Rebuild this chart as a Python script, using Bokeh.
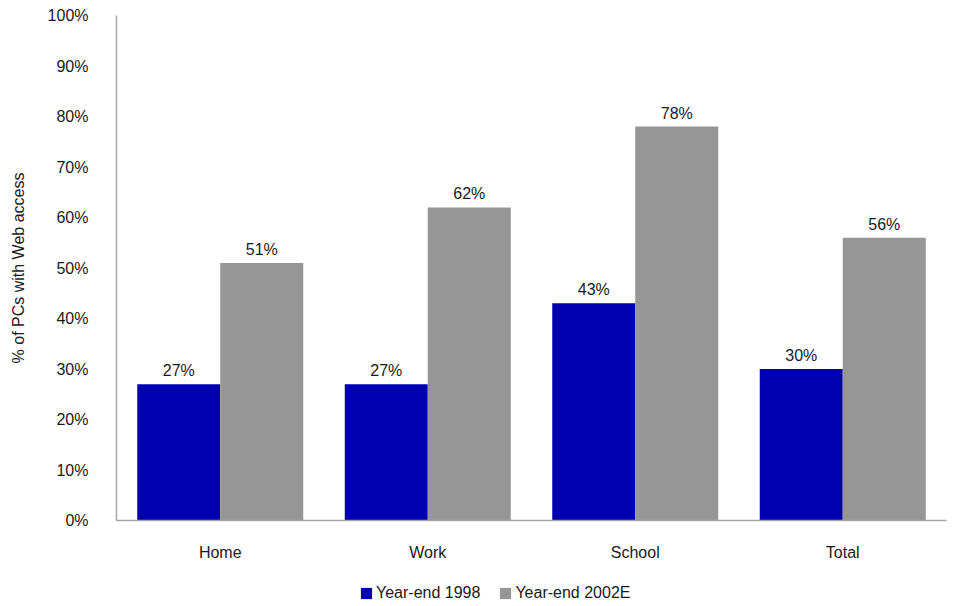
from bokeh.plotting import figure
from bokeh.layouts import column
from bokeh.models import ColumnDataSource, FactorRange, Legend, LegendItem, NumeralTickFormatter
from bokeh.transform import dodge
from bokeh.core.properties import value
from bokeh.embed import file_html
from bokeh.resources import INLINE

categories = ["Home", "Work", "School", "Total"]
series_names = ["Year-end 1998", "Year-end 2002E"]
share_1998 = [27, 27, 43, 30]
share_2002 = [51, 62, 78, 56]

FONT = "Liberation Sans"
BLUE = "#0000B0"
GRAY = "#969696"
TEXT = "#1a1a1a"

src = ColumnDataSource(dict(
    cat=categories,
    v98=[v / 100 for v in share_1998],
    v02=[v / 100 for v in share_2002],
    l98=[f"{v}%" for v in share_1998],
    l02=[f"{v}%" for v in share_2002],
))

p = figure(
    x_range=FactorRange(*categories, range_padding=0),
    y_range=(0, 1),
    width=953, height=566,
    output_backend="svg", toolbar_location=None,
    min_border_left=116, min_border_right=7, min_border_top=15, min_border_bottom=46,
)

p.vbar(x=dodge("cat", -0.2, range=p.x_range), top="v98", width=0.4,
       source=src, fill_color=BLUE, line_color=None)
p.vbar(x=dodge("cat", 0.2, range=p.x_range), top="v02", width=0.4,
       source=src, fill_color=GRAY, line_color=None)

for xoff, col_y, col_l in [(-0.2, "v98", "l98"), (0.2, "v02", "l02")]:
    p.text(x=dodge("cat", xoff, range=p.x_range), y=col_y, text=col_l, source=src,
           text_align="center", text_baseline="bottom", y_offset=-5,
           text_font=value(FONT), text_font_size="16px", text_color=TEXT)

p.grid.visible = False
p.outline_line_color = None

p.yaxis.formatter = NumeralTickFormatter(format="0%")
p.yaxis.ticker = [i / 10 for i in range(11)]
p.yaxis.axis_label = "% of PCs with Web access"
p.yaxis.axis_label_text_font = FONT
p.yaxis.axis_label_text_font_style = "normal"
p.yaxis.axis_label_text_font_size = "16px"
p.yaxis.axis_label_text_color = TEXT
p.yaxis.axis_label_standoff = 18

for ax in (p.xaxis[0], p.yaxis[0]):
    ax.axis_line_color = "#a6a6a6"
    ax.axis_line_width = 1.5
    ax.major_tick_line_color = None
    ax.minor_tick_line_color = None
    ax.major_label_text_font = FONT
    ax.major_label_text_font_size = "16px"
    ax.major_label_text_color = TEXT

p.yaxis.major_label_standoff = 22
p.xaxis.major_label_standoff = 17

# Legend strip underneath the chart; its key renderers hold no drawable data
lg = figure(width=953, height=40, output_backend="svg", toolbar_location=None,
            min_border=0, x_range=(0, 1), y_range=(0, 1))
lg.axis.visible = False
lg.grid.visible = False
lg.outline_line_color = None
nan = float("nan")
k98 = lg.vbar(x=[nan], top=[nan], width=0.1, fill_color=BLUE, line_color=None)
k02 = lg.vbar(x=[nan], top=[nan], width=0.1, fill_color=GRAY, line_color=None)
legend = Legend(items=[
    LegendItem(label=series_names[0], renderers=[k98]),
    LegendItem(label=series_names[1], renderers=[k02]),
], orientation="horizontal", location=(243, 4),
    label_text_font=FONT, label_text_font_size="16px", label_text_color=TEXT,
    glyph_width=14, glyph_height=14, spacing=18, label_standoff=3,
    padding=2, margin=0, border_line_color=None, background_fill_alpha=0)
lg.add_layout(legend, "center")

open("out.html", "w").write(file_html(column(p, lg, spacing=0), INLINE))
